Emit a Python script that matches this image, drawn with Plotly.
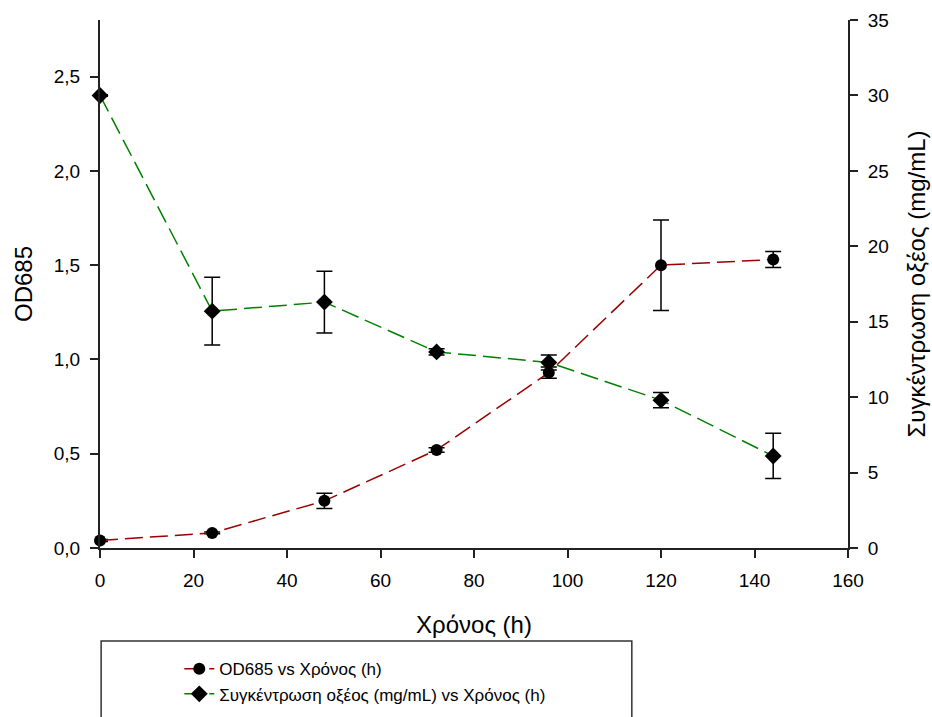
import plotly.graph_objects as go

time_h = [0, 24, 48, 72, 96, 120, 144]
od685 = [0.04, 0.08, 0.25, 0.52, 0.93, 1.50, 1.53]
od685_err = [0.005, 0.005, 0.04, 0.012, 0.03, 0.24, 0.043]
acid = [30.0, 15.7, 16.3, 13.0, 12.3, 9.8, 6.1]
acid_err = [0.05, 2.25, 2.05, 0.2, 0.5, 0.5, 1.5]

x_ticks = [0, 20, 40, 60, 80, 100, 120, 140, 160]
left_ticks = [0.0, 0.5, 1.0, 1.5, 2.0, 2.5]
right_ticks = [0, 5, 10, 15, 20, 25, 30, 35]

FONT = "Arial, Liberation Sans, sans-serif"
AX = "#222222"

fig = go.Figure()
fig.add_trace(go.Scatter(
    x=time_h, y=od685, name="OD685 vs Χρόνος (h)",
    mode="lines+markers",
    line=dict(color="#990000", width=1.5, dash="18px,7px"),
    marker=dict(symbol="circle", size=12, color="black"),
    error_y=dict(type="data", array=od685_err, visible=True, color="black", thickness=1.5, width=8),
    yaxis="y", cliponaxis=False,
))
fig.add_trace(go.Scatter(
    x=time_h, y=acid, name="Συγκέντρωση οξέος (mg/mL) vs Χρόνος (h)",
    mode="lines+markers",
    line=dict(color="#008000", width=1.5, dash="18px,7px"),
    marker=dict(symbol="diamond", size=13, color="black"),
    error_y=dict(type="data", array=acid_err, visible=True, color="black", thickness=1.5, width=8),
    yaxis="y2", cliponaxis=False,
))

fig.update_layout(
    width=932, height=717,
    margin=dict(l=100, r=84, t=20, b=169, autoexpand=False),
    paper_bgcolor="white", plot_bgcolor="white",
    font=dict(family=FONT, size=19, color="black"),
    separators=",.",
    xaxis=dict(
        range=[0, 160], tickvals=x_ticks, showgrid=False, zeroline=False,
        showline=True, linecolor=AX, linewidth=2, ticks="outside", ticklen=8,
        tickwidth=1.5, tickcolor=AX, tickfont=dict(size=19), ticklabelstandoff=6,
        automargin=False,
        title=dict(text="Χρόνος (h)", font=dict(size=24), standoff=26),
    ),
    yaxis=dict(
        range=[0, 2.8], tickvals=left_ticks, tickformat=".1f", showgrid=False, zeroline=False,
        showline=True, linecolor=AX, linewidth=2, ticks="outside", ticklen=8,
        tickwidth=1.5, tickcolor=AX, tickfont=dict(size=19), ticklabelstandoff=6,
        automargin=False,
        title=dict(text="OD685", font=dict(size=24), standoff=14),
    ),
    yaxis2=dict(
        range=[0, 35], tickvals=right_ticks, overlaying="y", side="right",
        showgrid=False, zeroline=False,
        showline=True, linecolor=AX, linewidth=2, ticks="outside", ticklen=8,
        tickwidth=1.5, tickcolor=AX, tickfont=dict(size=19), ticklabelstandoff=6,
        automargin=False,
        title=dict(text="Συγκέντρωση οξέος (mg/mL)", font=dict(size=24), standoff=20),
    ),
    showlegend=True,
    legend=dict(
        x=0.106, y=-0.1955, xanchor="left", yanchor="top",
        bgcolor="rgba(0,0,0,0)", borderwidth=0,
        font=dict(size=17), tracegroupgap=0,
    ),
    shapes=[
        dict(type="rect", xref="paper", yref="paper",
             x0=0.0015, x1=0.711, y0=-0.176, y1=-0.36,
             line=dict(color="#333333", width=1.5)),
        dict(type="line", xref="paper", yref="paper",
             x0=-0.01, x1=0, y0=0, y1=0,
             line=dict(color=AX, width=2)),
    ],
)

fig.write_html("out.html")
